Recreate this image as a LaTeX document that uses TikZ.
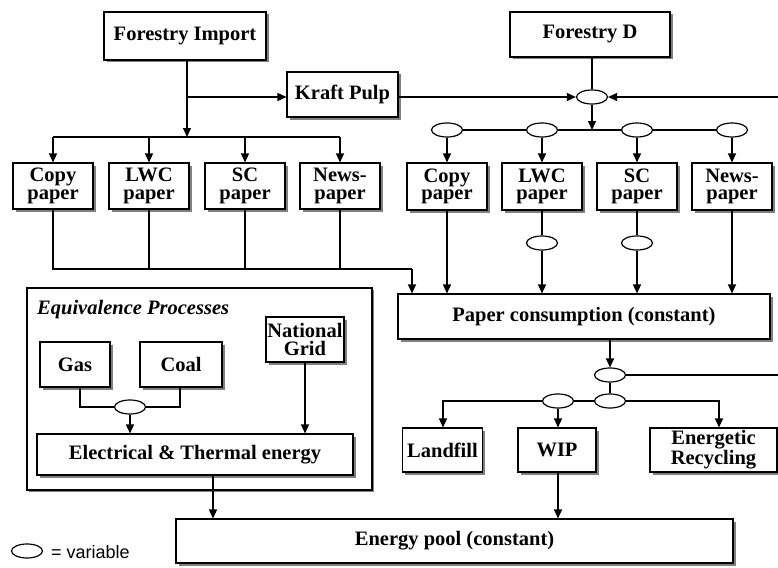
\documentclass[tikz,border=0pt]{standalone}
\usepackage{fontspec}
\setmainfont{Liberation Serif}
\newfontfamily\legendfont{Liberation Sans}
\usetikzlibrary{arrows.meta,shapes.geometric,shadows}

\begin{document}
\begin{tikzpicture}[x=1pt,y=-1pt,
  box/.style={draw, line width=1.1pt, fill=white, align=center, inner sep=0pt,
    font=\fontsize{20.5}{17.5}\selectfont\bfseries,
    drop shadow={shadow xshift=2.5pt,shadow yshift=-2.5pt,fill=black!50,opacity=1}},
  frame/.style={draw, line width=1.2pt, fill=white, inner sep=0pt,
    drop shadow={shadow xshift=1.5pt,shadow yshift=-1.5pt,fill=black!50,opacity=1}},
  var/.style={draw, ellipse, line width=1.2pt, fill=white,
    minimum width=31pt, minimum height=14pt, inner sep=0pt},
  flow/.style={line width=1.3pt, -{Triangle[length=9pt,width=8pt]}},
  link/.style={line width=1.3pt},
]
\useasboundingbox (0,0) rectangle (778,567);

% ---------- sources ----------
\node[box, minimum width=162pt, minimum height=48pt] (fimp)  at (185,36)    {Forestry Import};
\node[box, minimum width=111pt, minimum height=45pt] (kraft) at (342.5,94.5) {Kraft Pulp};
\node[box, minimum width=160pt, minimum height=45pt] (fd)    at (590,34.5)  {Forestry D};

% ---------- paper grades, imported pulp ----------
\foreach \n/\x/\t in {lcopy/53/{Copy\\paper}, llwc/149/{LWC\\paper},
                      lsc/245/{SC\\paper}, lnews/340/{News-\\paper}}
  \node[box, minimum width=80pt, minimum height=46pt] (\n) at (\x,186) {\t};

% ---------- paper grades, domestic pulp ----------
\foreach \n/\x/\t in {rcopy/447/{Copy\\paper}, rlwc/542/{LWC\\paper},
                      rsc/637/{SC\\paper}, rnews/732/{News-\\paper}}
  \node[box, minimum width=80pt, minimum height=47pt] (\n) at (\x,186.5) {\t};

\node[box, minimum width=372pt, minimum height=45pt] (pc) at (584,316.5) {Paper consumption (constant)};

% ---------- end of life ----------
\node[box, minimum width=80pt,  minimum height=44pt] (landfill) at (442.5,450) {Landfill};
\node[box, minimum width=78pt,  minimum height=44pt] (wip)      at (557,450)   {WIP};
\node[box, minimum width=127pt, minimum height=44pt] (er)       at (713.5,450) {Energetic\\Recycling};

% ---------- equivalence processes ----------
\node[frame, minimum width=345pt, minimum height=202pt] (eq) at (199.5,389) {};
\node[anchor=base west, inner sep=0pt, font=\fontsize{20.5}{20}\selectfont\bfseries\itshape]
  (eqtitle) at (37,314) {Equivalence Processes};
\node[box, minimum width=70pt, minimum height=45pt] (gas)  at (75,364.5)  {Gas};
\node[box, minimum width=82pt, minimum height=45pt] (coal) at (181,364.5) {Coal};
\node[box, minimum width=78pt, minimum height=45pt] (ng)   at (305,339.5) {National\\Grid};
\node[box, minimum width=316pt, minimum height=41pt] (et)  at (195,454.5) {Electrical \& Thermal energy};

\node[box, minimum width=557pt, minimum height=44pt] (ep) at (454.5,541) {Energy pool (constant)};

% ---------- variable nodes ----------
\node[var] (e0)  at (592,97)  {};
\node[var] (v1)  at (447,130) {};
\node[var] (v2)  at (542,130) {};
\node[var] (v3)  at (637,130) {};
\node[var] (v4)  at (732,130) {};
\node[var] (v5)  at (542,243) {};
\node[var] (v6)  at (637,243) {};
\node[var] (v7)  at (610,375) {};
\node[var] (v8)  at (610,401) {};
\node[var] (v9)  at (558,401) {};
\node[var] (v10) at (130,407) {};

% ---------- junction points ----------
\coordinate (kj)   at (187,97);
\coordinate (lbar) at (187,137);
\coordinate (lcol) at (412,269);
\coordinate (rin)  at (778,97);
\coordinate (rbar) at (592,130);
\coordinate (rout) at (778,375);
\coordinate (lfj)  at (443,401);
\coordinate (erj)  at (719,401);
\coordinate (gj)   at (80,407);
\coordinate (cj)   at (180,407);
\coordinate (etj)  at (213,475);

% ---------- imported pulp flows ----------
\draw[link] (kj |- fimp.south) -- (kj);
\draw[flow] (kj) -- (lbar);
\draw[flow] (kj) -- (kraft.west |- kj);
\draw[link] (lcopy.north |- lbar) -- (lnews.north |- lbar);
\foreach \n in {lcopy,llwc,lsc,lnews}
  \draw[flow] (\n.north |- lbar) -- (\n.north);
\draw[link] (lcopy.south) -- (lcopy.south |- lcol) -- (lcol);
\foreach \n in {llwc,lsc,lnews}
  \draw[link] (\n.south) -- (\n.south |- lcol);
\draw[flow] (lcol) -- (lcol |- pc.north);

% ---------- domestic pulp flows ----------
\draw[link] (e0.north |- fd.south) -- (e0.north);
\draw[flow] (kraft.east |- e0) -- (e0.west);
\draw[flow] (rin) -- (e0.east);
\draw[flow] (e0.south) -- (rbar);
\draw[link] (v1.east) -- (v2.west) (v2.east) -- (v3.west) (v3.east) -- (v4.west);
\draw[flow] (v1.south) -- (rcopy.north);
\draw[flow] (v2.south) -- (rlwc.north);
\draw[flow] (v3.south) -- (rsc.north);
\draw[flow] (v4.south) -- (rnews.north);
\draw[flow] (rcopy.south) -- (rcopy.south |- pc.north);
\draw[link] (rlwc.south) -- (v5.north);
\draw[flow] (v5.south) -- (v5.south |- pc.north);
\draw[link] (rsc.south) -- (v6.north);
\draw[flow] (v6.south) -- (v6.south |- pc.north);
\draw[flow] (rnews.south) -- (rnews.south |- pc.north);

% ---------- consumption to end of life ----------
\draw[flow] (v7.north |- pc.south) -- (v7.north);
\draw[link] (v7.east) -- (rout);
\draw[link] (v7.south) -- (v8.north);
\draw[link] (v8.west) -- (v9.east);
\draw[flow] (v9.west) -- (lfj) -- (lfj |- landfill.north);
\draw[flow] (v9.south) -- (v9.south |- wip.north);
\draw[flow] (v8.east) -- (erj) -- (erj |- er.north);
\draw[flow] (v9.south |- wip.south) -- (v9.south |- ep.north);

% ---------- energy equivalence ----------
\draw[link] (gj |- gas.south) -- (gj) -- (v10.west);
\draw[link] (cj |- coal.south) -- (cj) -- (v10.east);
\draw[flow] (v10.south) -- (v10.south |- et.north);
\draw[flow] (ng.south) -- (ng.south |- et.north);
\draw[flow] (etj) -- (etj |- ep.north);

% ---------- legend ----------
\node[var] (leg) at (27,551) {};
\node[anchor=base west, inner sep=0pt, font=\legendfont\fontsize{18}{18}\selectfont]
  (legtxt) at (51,558) {= variable};
\end{tikzpicture}
\end{document}
